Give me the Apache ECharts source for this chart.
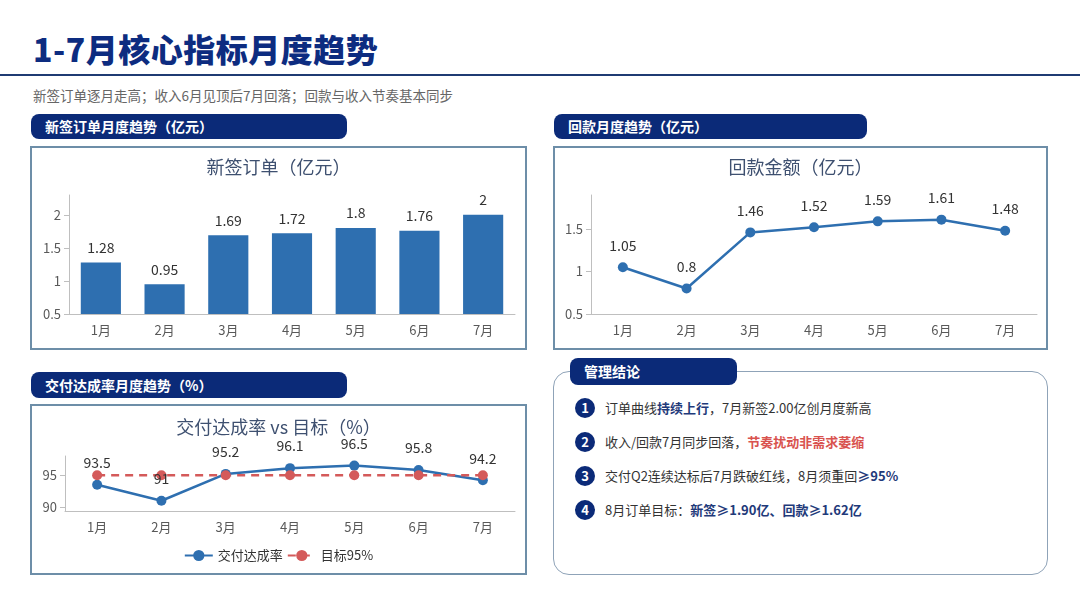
<!DOCTYPE html>
<html>
<head>
<meta charset="utf-8">
<script src="https://cdn.jsdelivr.net/npm/echarts@6/dist/echarts.min.js"></script>
<style>
  body { margin: 0; background: #fff; font-family: "Noto Sans CJK SC", "Noto Sans", sans-serif; }
  #page { position: relative; width: 1080px; height: 608px; overflow: hidden; background: #fff; }
  .abs { position: absolute; }
  .title { left: 33px; top: 26px; font-size: 32px; font-weight: 900; color: #0d2c80; line-height: 44px; letter-spacing: 0.5px; }
  .rule { left: 0; top: 74px; width: 1080px; height: 2px; background: #1f3b73; }
  .sub { left: 33px; top: 85px; font-size: 13.5px; color: #666; line-height: 20px; }
  .pill { background: #0b2a78; color: #fff; font-weight: bold; font-size: 14px; border-radius: 8px; box-sizing: border-box; padding-left: 14px; }
  .panel { border: 2px solid #6d8ea8; box-sizing: border-box; background: #fff; }
  .panel > div { width: 100%; height: 100%; }
  .mgmt { left: 553px; top: 371px; width: 495px; height: 204px; border: 1.5px solid #8fa3b8; border-radius: 16px; box-sizing: border-box; }
  .item { left: 575px; font-size: 13px; color: #333; line-height: 20px; display: flex; align-items: center; }
  .num { width: 20px; height: 20px; border-radius: 10px; background: #0b2a78; color: #fff; font-weight: bold; font-size: 13px; text-align: center; line-height: 20px; margin-right: 10px; }
  .b { color: #1f3a7a; font-weight: bold; }
  .r { color: #d9534f; font-weight: bold; }
</style>
</head>
<body>
<div id="page">
  <div class="abs title">1-7月核心指标月度趋势</div>
  <div class="abs rule"></div>
  <div class="abs sub">新签订单逐月走高；收入6月见顶后7月回落；回款与收入节奏基本同步</div>

  <div class="abs pill" style="left:31px;top:114px;width:316px;height:25px;line-height:25px;">新签订单月度趋势（亿元）</div>
  <div class="abs pill" style="left:554px;top:114px;width:313px;height:25px;line-height:25px;">回款月度趋势（亿元）</div>
  <div class="abs pill" style="left:31px;top:372px;width:316px;height:26px;line-height:26px;">交付达成率月度趋势（%）</div>

  <div class="abs panel" style="left:30px;top:146px;width:497px;height:204px;"><div id="c1"></div></div>
  <div class="abs panel" style="left:553px;top:146px;width:495px;height:204px;"><div id="c2"></div></div>
  <div class="abs panel" style="left:30px;top:404px;width:497px;height:171px;"><div id="c3"></div></div>

  <div class="abs mgmt"></div>
  <div class="abs pill" style="left:570px;top:358px;width:167px;height:27px;line-height:27px;">管理结论</div>
  <div class="abs item" style="top:398px;"><span class="num">1</span>订单曲线<span class="b">持续上行</span>，7月新签2.00亿创月度新高</div>
  <div class="abs item" style="top:432px;"><span class="num">2</span>收入/回款7月同步回落，<span class="r">节奏扰动非需求萎缩</span></div>
  <div class="abs item" style="top:466px;"><span class="num">3</span>交付Q2连续达标后7月跌破红线，8月须重回<span class="b">≥95%</span></div>
  <div class="abs item" style="top:500px;"><span class="num">4</span>8月订单目标：<span class="b">新签≥1.90亿、回款≥1.62亿</span></div>
</div>

<script>
// 数据
var months = ['1月', '2月', '3月', '4月', '5月', '6月', '7月'];
var orders = [1.28, 0.95, 1.69, 1.72, 1.8, 1.76, 2];
var payments = [1.05, 0.8, 1.46, 1.52, 1.59, 1.61, 1.48];
var delivery = [93.5, 91, 95.2, 96.1, 96.5, 95.8, 94.2];
var target = [95, 95, 95, 95, 95, 95, 95];
var orderTicks = [0.5, 1, 1.5, 2];
var paymentTicks = [0.5, 1, 1.5];
var deliveryTicks = [90, 95];

var FONT = '"Noto Sans CJK SC", "Noto Sans", sans-serif';
var BLUE = '#2e6fb0';
var RED = '#d45a5a';

function xAxis() {
  return {
    type: 'category',
    data: months,
    axisLine: { lineStyle: { color: '#bfbfbf' } },
    axisTick: { lineStyle: { color: '#bfbfbf' } },
    axisLabel: { color: '#595959', fontSize: 13, fontFamily: FONT, margin: 10 }
  };
}
function yAxis(min, max, ticks) {
  return {
    type: 'value',
    min: min,
    max: max,
    splitLine: { show: false },
    axisLine: { show: true, lineStyle: { color: '#bfbfbf' } },
    axisTick: { show: true, customValues: ticks, lineStyle: { color: '#bfbfbf' } },
    axisLabel: { customValues: ticks, color: '#595959', fontSize: 13, fontFamily: FONT }
  };
}
function title(text, top) {
  return {
    text: text,
    left: 'center',
    top: top,
    textStyle: { color: '#3e5070', fontSize: 18, fontWeight: 'normal', fontFamily: FONT }
  };
}

var c1 = echarts.init(document.getElementById('c1'));
c1.setOption({
  animation: false,
  title: title('新签订单（亿元）', 5),
  grid: { left: 37, right: 10, top: 47, bottom: 34 },
  xAxis: xAxis(),
  yAxis: yAxis(0.5, 2.3, orderTicks),
  series: [{
    type: 'bar',
    data: orders,
    barWidth: '63%',
    itemStyle: { color: BLUE },
    label: { show: true, position: 'top', distance: 8, color: '#333', fontSize: 14, fontFamily: FONT }
  }]
});

var c2 = echarts.init(document.getElementById('c2'));
c2.setOption({
  animation: false,
  title: title('回款金额（亿元）', 5),
  grid: { left: 36, right: 9, top: 47, bottom: 34 },
  xAxis: xAxis(),
  yAxis: yAxis(0.5, 1.9, paymentTicks),
  series: [{
    type: 'line',
    data: payments,
    symbol: 'circle',
    symbolSize: 10,
    lineStyle: { color: BLUE, width: 2.5 },
    itemStyle: { color: BLUE },
    label: { show: true, position: 'top', distance: 10, color: '#333', fontSize: 14, fontFamily: FONT }
  }]
});

var c3 = echarts.init(document.getElementById('c3'));
c3.setOption({
  animation: false,
  title: title('交付达成率 vs 目标（%）', 7),
  grid: { left: 33, right: 10, top: 50, bottom: 62 },
  legend: {
    bottom: 6,
    left: 'center',
    itemGap: 4,
    itemWidth: 28,
    textStyle: { color: '#333', fontSize: 13, fontFamily: FONT },
    data: ['交付达成率', '目标95%']
  },
  xAxis: xAxis(),
  yAxis: yAxis(89.4, 98, deliveryTicks),
  series: [{
    name: '交付达成率',
    type: 'line',
    data: delivery,
    symbol: 'circle',
    symbolSize: 10,
    lineStyle: { color: BLUE, width: 2.5 },
    itemStyle: { color: BLUE },
    label: { show: true, position: 'top', distance: 10, color: '#333', fontSize: 14, fontFamily: FONT }
  }, {
    name: '目标95%',
    type: 'line',
    data: target,
    symbol: 'circle',
    symbolSize: 10,
    lineStyle: { color: RED, width: 2.5, type: [8, 6] },
    itemStyle: { color: RED }
  }]
});
</script>
</body>
</html>
